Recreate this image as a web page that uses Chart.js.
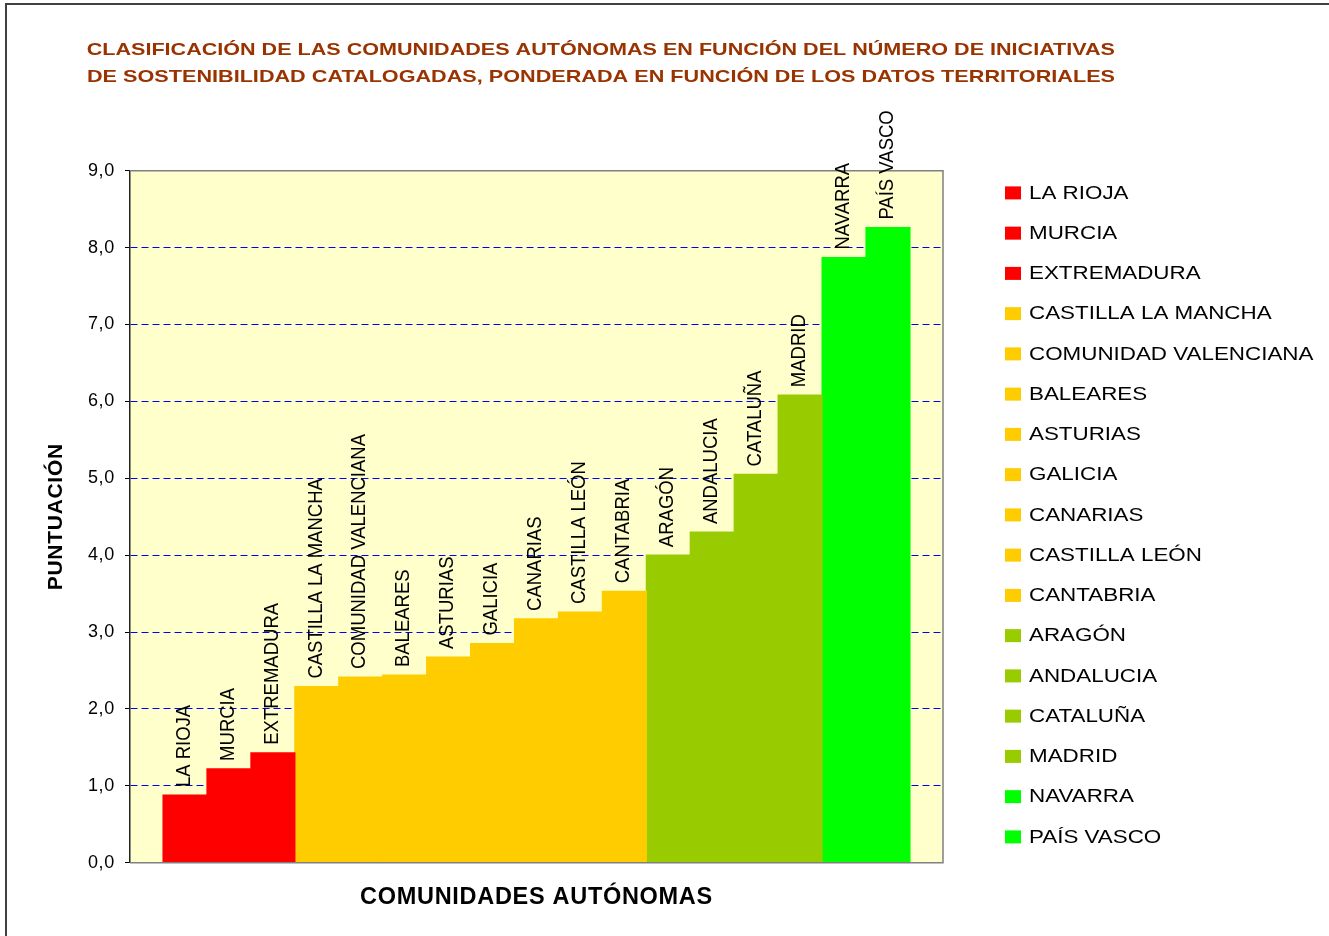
<!DOCTYPE html>
<html lang="es">
<head>
<meta charset="utf-8">
<title>Clasificación de las Comunidades Autónomas</title>
<script src="https://cdn.jsdelivr.net/npm/chart.js@4.4.1/dist/chart.umd.min.js"></script>
<style>
  html, body { margin: 0; padding: 0; background: #fff; }
  canvas { display: block; }
</style>
</head>
<body>
<canvas id="chart" width="1329" height="936"></canvas>
<script>
// data
const communities = [
    'LA RIOJA', 'MURCIA', 'EXTREMADURA', 'CASTILLA LA MANCHA', 'COMUNIDAD VALENCIANA',
    'BALEARES', 'ASTURIAS', 'GALICIA', 'CANARIAS', 'CASTILLA LEÓN', 'CANTABRIA',
    'ARAGÓN', 'ANDALUCIA', 'CATALUÑA', 'MADRID', 'NAVARRA', 'PAÍS VASCO'
]
const scores = [0.88, 1.22, 1.43, 2.29, 2.415, 2.44, 2.675, 2.85, 3.17, 3.26, 3.53, 4.00, 4.30, 5.05, 6.08, 7.87, 8.26]
const barColors = [
    '#FF0000', '#FF0000', '#FF0000',
    '#FFCC00', '#FFCC00', '#FFCC00', '#FFCC00', '#FFCC00', '#FFCC00', '#FFCC00', '#FFCC00',
    '#99CC00', '#99CC00', '#99CC00', '#99CC00',
    '#00FF00', '#00FF00'
]
const yTickValues = [0, 1, 2, 3, 4, 5, 6, 7, 8, 9]
const titleLines = [
    'CLASIFICACIÓN DE LAS COMUNIDADES AUTÓNOMAS EN FUNCIÓN DEL NÚMERO DE INICIATIVAS',
    'DE SOSTENIBILIDAD CATALOGADAS, PONDERADA EN FUNCIÓN DE LOS DATOS TERRITORIALES'
]
const xTitle = 'COMUNIDADES AUTÓNOMAS'
const yTitle = 'PUNTUACIÓN'

const FAMILY = '"Liberation Sans", Arial, sans-serif'
const SPACING = '0.7px'   // excel text looks a bit stretched
const STRETCH = 1.2       // same idea, for the text we draw ourselves

// chart area wanted: left 130, top 170.7, right 943, bottom 862.7
const datasets = communities.map((name, i) => ({
    label: name,
    data: [scores[i]],
    backgroundColor: barColors[i],
    borderWidth: 0,
    inflateAmount: 0.6,
    barPercentage: 1,
    categoryPercentage: 0.9187,
}))

const excelLook = {
    id: 'excelLook',
    beforeUpdate(chart) {
        chart.ctx.letterSpacing = SPACING
    },
    beforeDraw(chart) {
        const {ctx, chartArea: a} = chart
        ctx.letterSpacing = SPACING
        ctx.save()
        ctx.fillStyle = '#FFFFFF'
        ctx.fillRect(0, 0, chart.width, chart.height)
        ctx.fillStyle = '#FFFFCC'
        ctx.fillRect(a.left, a.top, a.right - a.left, a.bottom - a.top)
        ctx.restore()
    },
    afterDatasetsDraw(chart) {
        const {ctx, chartArea: a} = chart
        ctx.save()
        // plot area border (top, right, bottom)
        ctx.strokeStyle = '#808080'
        ctx.lineWidth = 1.5
        ctx.beginPath()
        ctx.moveTo(a.left, a.top)
        ctx.lineTo(a.right, a.top)
        ctx.lineTo(a.right, a.bottom)
        ctx.lineTo(a.left, a.bottom)
        ctx.stroke()

        // names above each bar, rotated
        ctx.letterSpacing = '0px'
        ctx.font = '18.5px ' + FAMILY
        ctx.fillStyle = '#000'
        ctx.textAlign = 'left'
        ctx.textBaseline = 'middle'
        chart.data.datasets.forEach((ds, i) => {
            const bar = chart.getDatasetMeta(i).data[0]
            ctx.save()
            ctx.translate(bar.x - 1, bar.y - 8)
            ctx.scale(1.12, 1)
            ctx.rotate(-Math.PI / 2)
            ctx.fillText(ds.label, 0, 0)
            ctx.restore()
        })
        ctx.restore()
    },
    afterDraw(chart) {
        const ctx = chart.ctx
        ctx.save()
        // legend, one entry per dataset
        ctx.font = '18.5px ' + FAMILY
        ctx.letterSpacing = '0px'
        ctx.textAlign = 'left'
        ctx.textBaseline = 'alphabetic'
        chart.data.datasets.forEach((ds, i) => {
            const base = 198.7 + i * 40.25
            ctx.fillStyle = ds.backgroundColor
            ctx.fillRect(1005, base - 12.3, 16, 13)
            ctx.fillStyle = '#000'
            ctx.save()
            ctx.translate(1029, base)
            ctx.scale(1.21, 1)
            ctx.fillText(ds.label, 0, 0)
            ctx.restore()
        })

        // title, stretched to the width seen in the picture
        ctx.font = 'bold 17px ' + FAMILY
        ctx.fillStyle = '#993300'
        const starts = [86.7, 87]
        const baselines = [55, 81.5]
        titleLines.forEach((line, i) => {
            const w0 = ctx.measureText(line).width
            const sx = (1115 - starts[i]) / w0
            ctx.save()
            ctx.translate(starts[i], baselines[i])
            ctx.scale(sx, 1)
            ctx.fillText(line, 0, 0)
            ctx.restore()
        })
        // outer frame
        ctx.strokeStyle = '#404040'
        ctx.lineWidth = 2
        ctx.beginPath()
        ctx.moveTo(6, 936)
        ctx.lineTo(6, 4)
        ctx.lineTo(1329, 4)
        ctx.stroke()
        ctx.restore()
    }
}

const chart = new Chart(document.getElementById('chart'), {
    type: 'bar',
    data: {
        labels: [''],
        datasets: datasets,
    },
    options: {
        responsive: false,
        animation: false,
        layout: {
            padding: {top: 170.7, left: 0, right: 1329 - 943, bottom: 0}
        },
        scales: {
            x: {
                ticks: {display: false},
                grid: {display: false},
                border: {display: false},
                title: {
                    display: true,
                    text: xTitle,
                    color: '#000',
                    font: {family: FAMILY, size: 23.5, weight: 'bold'},
                    padding: {top: 24.5, bottom: 24.5},
                },
                afterFit: (scale) => { scale.height = 936 - 862.7 },
            },
            y: {
                min: 0,
                max: 9,
                afterBuildTicks: (scale) => { scale.ticks = yTickValues.map(v => ({value: v})) },
                ticks: {
                    color: '#000',
                    font: {family: FAMILY, size: 18},
                    padding: 10,
                    callback: (v) => v.toFixed(1).replace('.', ','),
                },
                grid: {
                    color: (c) => (c.tick && (c.tick.value === 0 || c.tick.value === 9)) ? 'rgba(0,0,0,0)' : '#0000FF',
                    lineWidth: 1,
                    tickColor: '#000',
                    tickLength: 5,
                },
                border: {display: true, color: '#222', width: 1.5, dash: [7, 4]},
                title: {
                    display: true,
                    text: yTitle,
                    color: '#000',
                    font: {family: FAMILY, size: 21, weight: 'bold'},
                    padding: {top: 44, bottom: 44},
                },
                afterFit: (scale) => { scale.width = 130 },
            },
        },
        plugins: {
            legend: {display: false},
            title: {display: false},
            tooltip: {enabled: false},
        },
    },
    plugins: [excelLook],
})
</script>
</body>
</html>
